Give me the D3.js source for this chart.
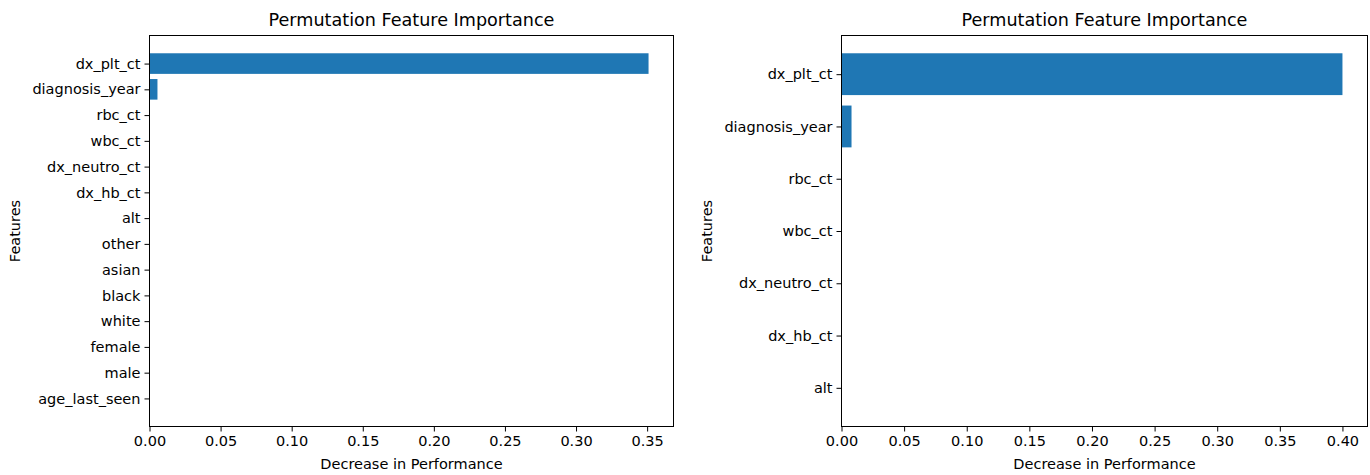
<!DOCTYPE html>
<html>
<head>
<meta charset="utf-8">
<script src="https://cdn.jsdelivr.net/npm/d3@7"></script>
<style>
  body { margin: 0; background: #fff; }
  svg { font-family: "DejaVu Sans", sans-serif; }
</style>
</head>
<body>
<div id="chart"></div>
<script>
const leftFeatures = ['dx_plt_ct', 'diagnosis_year', 'rbc_ct', 'wbc_ct', 'dx_neutro_ct', 'dx_hb_ct', 'alt',
  'other', 'asian', 'black', 'white', 'female', 'male', 'age_last_seen'];
const leftValues = [0.351, 0.0056, 0, 0, 0, 0, 0, 0, 0, 0, 0, 0, 0, 0];
const leftTicks = [0, 0.05, 0.10, 0.15, 0.20, 0.25, 0.30, 0.35];

const rightFeatures = ['dx_plt_ct', 'diagnosis_year', 'rbc_ct', 'wbc_ct', 'dx_neutro_ct', 'dx_hb_ct', 'alt'];
const rightValues = [0.400, 0.008, 0, 0, 0, 0, 0];
const rightTicks = [0, 0.05, 0.10, 0.15, 0.20, 0.25, 0.30, 0.35, 0.40];

const width = 1370;
const height = 475;
const tickFont = '14.5px';

const svg = d3.select('#chart')
  .append('svg')
  .attr('width', width)
  .attr('height', height);

function panel(features, values, ticks, box) {
  const n = features.length;
  const xmax = d3.max(values) * 1.05;
  const x = d3.scaleLinear().domain([0, xmax]).range([box.left, box.right]);
  const pad = (n - 1 + 0.8) * 0.05;
  const y = d3.scaleLinear().domain([-0.4 - pad, n - 1 + 0.4 + pad]).range([box.top, box.bottom]);

  const g = svg.append('g');

  g.append('g')
    .attr('fill', '#1f77b4')
    .selectAll('rect')
    .data(values)
    .join('rect')
      .attr('x', x(0))
      .attr('y', (d, i) => y(i - 0.4))
      .attr('width', d => x(d) - x(0))
      .attr('height', y(0.4) - y(-0.4));

  g.append('rect')
    .attr('x', box.left)
    .attr('y', box.top)
    .attr('width', box.right - box.left)
    .attr('height', box.bottom - box.top)
    .attr('fill', 'none')
    .attr('stroke', '#000')
    .attr('stroke-width', 1);

  g.append('g')
    .attr('transform', `translate(0, ${box.bottom})`)
    .call(d3.axisBottom(x).tickValues(ticks).tickFormat(d3.format('.2f')).tickSize(5).tickPadding(4))
    .call(a => a.select('.domain').remove())
    .attr('font-size', tickFont)
    .attr('font-family', '"DejaVu Sans", sans-serif')
    .call(a => a.selectAll('text').attr('fill', '#000'));

  g.append('g')
    .attr('transform', `translate(${box.left}, 0)`)
    .call(d3.axisLeft(y).tickValues(d3.range(n)).tickFormat(i => features[i]).tickSize(5).tickPadding(4))
    .call(a => a.select('.domain').remove())
    .attr('font-size', tickFont)
    .attr('font-family', '"DejaVu Sans", sans-serif')
    .call(a => a.selectAll('text').attr('fill', '#000'));

  const cx = (box.left + box.right) / 2;
  g.append('text')
    .attr('x', cx)
    .attr('y', 26)
    .attr('text-anchor', 'middle')
    .attr('font-size', '17.6px')
    .text('Permutation Feature Importance');

  g.append('text')
    .attr('x', cx)
    .attr('y', 469)
    .attr('text-anchor', 'middle')
    .attr('font-size', tickFont)
    .text('Decrease in Performance');

  g.append('text')
    .attr('transform', `translate(${box.ylabel}, ${(box.top + box.bottom) / 2}) rotate(-90)`)
    .attr('text-anchor', 'middle')
    .attr('font-size', tickFont)
    .text('Features');
}

panel(leftFeatures, leftValues, leftTicks, { left: 149.5, right: 673.5, top: 35.5, bottom: 426.5, ylabel: 20 });
panel(rightFeatures, rightValues, rightTicks, { left: 841.5, right: 1367.5, top: 35.5, bottom: 426.5, ylabel: 712 });
</script>
</body>
</html>
